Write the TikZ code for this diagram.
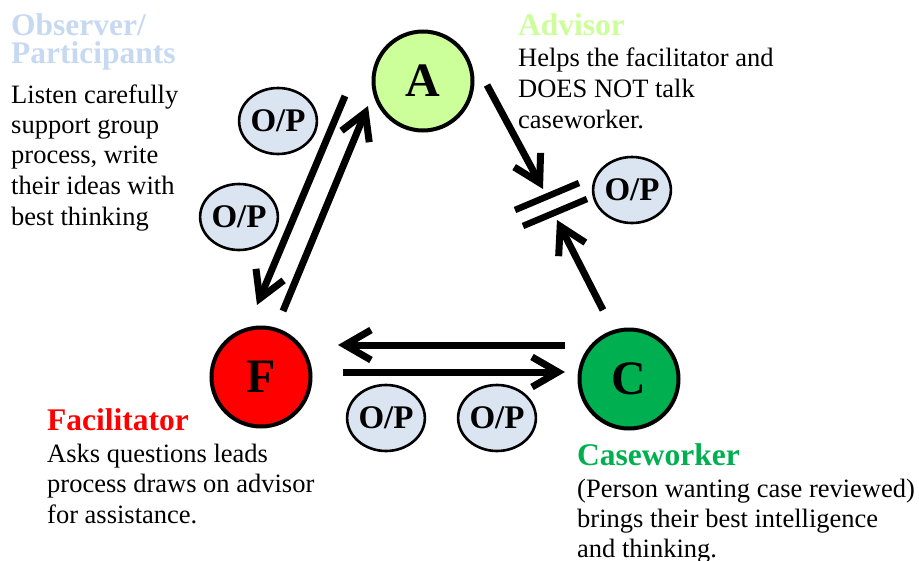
\documentclass[tikz,border=0pt]{standalone}
\usepackage{fontspec}
\setmainfont{Liberation Serif}
\usetikzlibrary{shapes.geometric,calc}
\definecolor{obsblue}{HTML}{C6D9F1}
\definecolor{advgreen}{HTML}{CCFF99}
\definecolor{csgreen}{HTML}{00B050}
\definecolor{opfill}{HTML}{DBE5F1}
\tikzset{
  role/.style={circle,draw=black,line width=4pt,minimum size=99pt,inner sep=0pt,
    font=\fontsize{48}{48}\selectfont\bfseries},
  opnode/.style={ellipse,draw=black,line width=2.6pt,fill=opfill,minimum width=77pt,
    minimum height=66pt,inner sep=0pt,font=\fontsize{33}{33}\selectfont\bfseries},
  flowline/.style={line width=7pt},
  barline/.style={line width=6.5pt},
  head/.style={anchor=base west,inner sep=0pt,font=\fontsize{31.5}{31.5}\selectfont\bfseries},
  body/.style={anchor=base west,inner sep=0pt,font=\fontsize{26.5}{26.5}\selectfont},
}
% open barbed arrow from #1 to #2 (#2 = outer point of the head)
\newcommand{\barbarrow}[2]{%
  \coordinate (tmpT) at ($(#2)!7pt!(#1)$);
  \draw[flowline] (#1) -- ($(tmpT)!3pt!(#1)$);
  \draw[flowline,line join=miter] ($(tmpT)!30pt!30:(#1)$) -- (tmpT) -- ($(tmpT)!30pt!-30:(#1)$);
}
\begin{document}
\begin{tikzpicture}[x=1pt,y=-1pt]
\useasboundingbox (0,0) rectangle (919,560);
% role circles
\node[role,fill=advgreen] (A) at (423,81) {A};
\node[role,fill=red] (F) at (261,377) {F};
\node[role,fill=csgreen] (C) at (629,379) {C};
% observer/participant ellipses
\node[opnode] (op1) at (278,121) {O/P};
\node[opnode] (op2) at (239,217) {O/P};
\node[opnode] (op3) at (632,190) {O/P};
\node[opnode] (op4) at (386,418) {O/P};
\node[opnode] (op5) at (497,418) {O/P};
% connector end points
\coordinate (fa0) at (283,311);
\coordinate (fa1) at (368,106);
\coordinate (af0) at (345,96);
\coordinate (af1) at (257,305);
\coordinate (ab0) at (487,85);
\coordinate (ab1) at (543,189);
\coordinate (cb0) at (603,310);
\coordinate (cb1) at (557,220);
\coordinate (cf0) at (565,345);
\coordinate (cf1) at (338,345);
\coordinate (fc0) at (343,372);
\coordinate (fc1) at (565,372);
\coordinate (b1a) at (515,210);
\coordinate (b1b) at (579,183);
\coordinate (b2a) at (523,226);
\coordinate (b2b) at (587,199);
% connectors
\barbarrow{fa0}{fa1}
\barbarrow{af0}{af1}
\barbarrow{ab0}{ab1}
\barbarrow{cb0}{cb1}
\barbarrow{cf0}{cf1}
\barbarrow{fc0}{fc1}
\draw[barline] (b1a) -- (b1b);
\draw[barline] (b2a) -- (b2b);
% Observer / Participants
\node[head,text=obsblue] (obsH1) at (11,35) {Observer/};
\node[head,text=obsblue] (obsH2) at (11,63) {Participants};
\node[body] (obs1) at (11,103) {Listen carefully};
\node[body] (obs2) at (11,133) {support group};
\node[body] (obs3) at (11,163) {process, write};
\node[body] (obs4) at (11,194) {their ideas with};
\node[body] (obs5) at (11,225) {best thinking};
% Advisor
\node[head,text=advgreen] (advH) at (518,35) {Advisor};
\node[body] (adv1) at (518,66) {Helps the facilitator and};
\node[body] (adv2) at (518,97) {DOES NOT talk};
\node[body] (adv3) at (518,128) {caseworker.};
% Facilitator
\node[head,text=red] (facH) at (47,430) {Facilitator};
\node[body] (fac1) at (47,462) {Asks questions leads};
\node[body] (fac2) at (47,492) {process draws on advisor};
\node[body] (fac3) at (47,523) {for assistance.};
% Caseworker
\node[head,text=csgreen] (csH) at (577,465) {Caseworker};
\node[body] (cs1) at (577,497) {(Person wanting case reviewed)};
\node[body] (cs2) at (577,527) {brings their best intelligence};
\node[body] (cs3) at (577,557) {and thinking.};
\end{tikzpicture}
\end{document}
